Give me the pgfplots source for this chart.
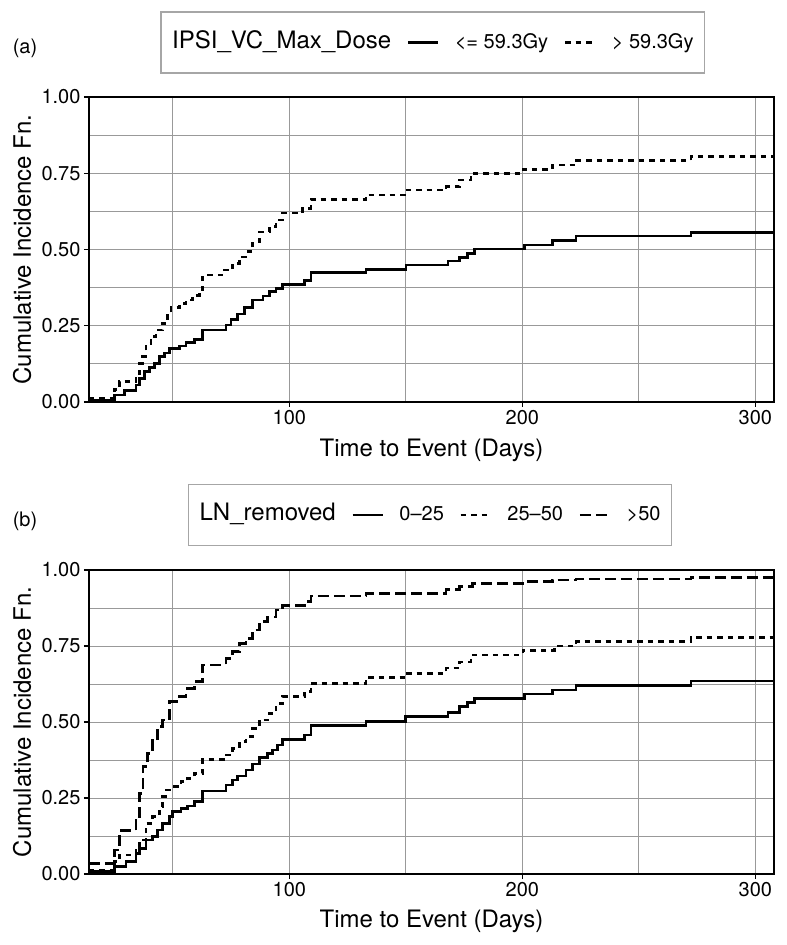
\documentclass[border=0pt]{standalone}
\usepackage{fontspec}
\setmainfont{TeX Gyre Heros}
\usepackage{pgfplots}
\pgfplotsset{compat=1.18}

\pgfplotsset{
  cif/.style={
    scale only axis, width=685pt,
    xmin=14, xmax=308, ymin=0, ymax=1,
    xtick={100,200,300}, minor xtick={50,150,250},
    ytick={0,0.25,0.5,0.75,1}, minor ytick={0.125,0.375,0.625,0.875},
    yticklabels={0.00,0.25,0.50,0.75,1.00},
    /pgf/number format/assume math mode=true,
    grid=both,
    major grid style={black!40, line width=0.8pt},
    minor grid style={black!40, line width=0.8pt},
    tick align=outside, tick pos=left,
    major tick length=5pt, minor tick length=0pt,
    every tick/.style={black, line width=1.4pt},
    axis line style={line width=1.6pt},
    ticklabel style={font=\fontsize{20}{24}\selectfont},
    xlabel={Time to Event (Days)},
    ylabel={Cumulative Incidence Fn.},
    every axis x label/.style={at={(axis description cs:0.5,-0.157)}, anchor=center,
      font=\fontsize{24}{28}\selectfont},
    every axis y label/.style={at={(axis description cs:-0.0978,0.5)}, anchor=center,
      rotate=90, font=\fontsize{24}{28}\selectfont},
    legend columns=-1,
    legend cell align=left,
    legend image code/.code={\draw[##1] (0pt,0pt) -- (30pt,0pt);},
    legend style={anchor=center, draw=black!35, line width=1.5pt,
      inner xsep=11pt, inner ysep=19.5pt, column sep=15.5pt,
      nodes={inner sep=0pt, text height=17pt, text depth=5pt},
      font=\fontsize{20}{24}\selectfont},
  },
  solidcurve/.style={const plot, black, line width=2.6pt},
  dotcurve/.style={const plot, black, line width=2.6pt, dash pattern=on 5.5pt off 5pt},
  dashcurve/.style={const plot, black, line width=2.6pt, dash pattern=on 11pt off 5pt},
}

\begin{document}
\begin{tikzpicture}
\path[use as bounding box] (0,0) rectangle (787pt,945pt);

% (a) IPSI_VC_Max_Dose
\begin{axis}[cif, height=305pt, at={(89pt,543pt)}, anchor=south west,
  legend style={at={(0.502,1.1787)}}]
\addlegendimage{empty legend}
\addlegendentry{\hspace*{-15.5pt}\fontsize{24}{28}\selectfont IPSI\_VC\_Max\_Dose}
\addplot[solidcurve] coordinates {
(14,0.005) (24.9,0.023) (29.2,0.037) (34.2,0.056) (35.6,0.078) (37.8,0.10)
(39.9,0.114) (42,0.127) (44.2,0.149) (46.4,0.16) (48.5,0.176) (52.8,0.184)
(55.7,0.195) (59.2,0.205) (62.8,0.236) (72.8,0.252) (75,0.271) (77.8,0.289)
(80.7,0.31) (84.3,0.334) (88.6,0.348) (91.4,0.362) (94.3,0.373) (97.1,0.386)
(106.4,0.398) (109.3,0.424) (132.9,0.435) (150.1,0.449) (168,0.462) (173,0.474)
(176.5,0.487) (179.4,0.502) (200.9,0.515) (213,0.529) (223,0.544) (272.4,0.556)
(308,0.556)};
\addlegendentry{<= 59.3Gy}
\addplot[dotcurve] coordinates {
(14,0.012) (24.9,0.04) (27,0.067) (34.2,0.083) (35.6,0.127) (37,0.149)
(38.5,0.192) (40.6,0.214) (42.8,0.236) (45.6,0.258) (47.8,0.29) (49.2,0.31)
(52.8,0.323) (55.7,0.334) (58.5,0.35) (61.4,0.367) (62.8,0.416) (72.1,0.433)
(75.7,0.455) (78.5,0.476) (81.4,0.493) (84.3,0.526) (87.1,0.558) (91.4,0.575)
(94.3,0.597) (97.1,0.619) (105.7,0.635) (109.3,0.664) (132.9,0.679) (149.4,0.695)
(167.3,0.706) (173,0.728) (178,0.75) (200.2,0.763) (213,0.777) (223,0.791)
(272.4,0.804) (308,0.804)};
\addlegendentry{> 59.3Gy}
\end{axis}

% (b) LN_removed
\begin{axis}[cif, height=304pt, at={(89pt,71pt)}, anchor=south west,
  legend style={at={(0.498,1.181)}}]
\addlegendimage{empty legend}
\addlegendentry{\hspace*{-15.5pt}\fontsize{24}{28}\selectfont LN\_removed}
\addplot[solidcurve] coordinates {
(14,0.008) (24.9,0.024) (29.9,0.041) (34.2,0.068) (35.6,0.084) (38.5,0.112)
(41.3,0.123) (43.5,0.145) (45.6,0.167) (48.5,0.189) (49.9,0.205) (53.5,0.216)
(56.4,0.224) (59.2,0.238) (62.8,0.273) (72.8,0.293) (75.7,0.309) (77.8,0.322)
(81.4,0.342) (84.3,0.362) (87.1,0.384) (90.7,0.397) (92.8,0.408) (95,0.424)
(97.1,0.443) (106.4,0.457) (109.3,0.488) (132.9,0.501) (149.8,0.518) (168,0.531)
(173,0.55) (176.5,0.564) (179.4,0.578) (200.9,0.592) (213,0.605) (223,0.62)
(272.4,0.635) (308,0.635)};
\addlegendentry{0–25}
\addplot[dotcurve] coordinates {
(14,0.011) (24.9,0.041) (27,0.0625) (34.2,0.079) (35.6,0.112) (38.5,0.167)
(41.3,0.189) (44.2,0.221) (45.6,0.254) (47.1,0.276) (49.9,0.287) (53.5,0.304)
(56.4,0.315) (59.2,0.331) (62.8,0.377) (72.8,0.391) (75.7,0.413) (78.5,0.435)
(81.4,0.452) (84.3,0.479) (87.1,0.507) (91.4,0.528) (94.3,0.561) (97.1,0.583)
(106.4,0.6) (109.3,0.627) (132.9,0.647) (149.8,0.66) (167.3,0.677) (173,0.698)
(178,0.72) (200.2,0.735) (213.7,0.75) (223,0.764) (272.4,0.777) (308,0.777)};
\addlegendentry{25–50}
\addplot[dashcurve] coordinates {
(14,0.035) (24.9,0.079) (27,0.143) (34.2,0.178) (35.6,0.265) (37.1,0.353)
(39.2,0.397) (41.3,0.44) (43.5,0.485) (45.6,0.507) (48.5,0.567) (52.8,0.583)
(55.7,0.61) (59.2,0.633) (62.8,0.688) (72.8,0.709) (75.7,0.731) (78.5,0.759)
(81.4,0.775) (84.3,0.803) (87.1,0.83) (90.7,0.846) (94.3,0.868) (97.1,0.883)
(106.4,0.896) (109.3,0.914) (132.9,0.923) (167.3,0.936) (173,0.945) (178.7,0.956)
(200.2,0.962) (213,0.967) (223,0.97) (272.4,0.976) (308,0.976)};
\addlegendentry{>50}
\end{axis}

\node[font=\fontsize{20}{24}\selectfont] at (25pt,897pt) {(a)};
\node[font=\fontsize{20}{24}\selectfont] at (25pt,424pt) {(b)};
\end{tikzpicture}
\end{document}
